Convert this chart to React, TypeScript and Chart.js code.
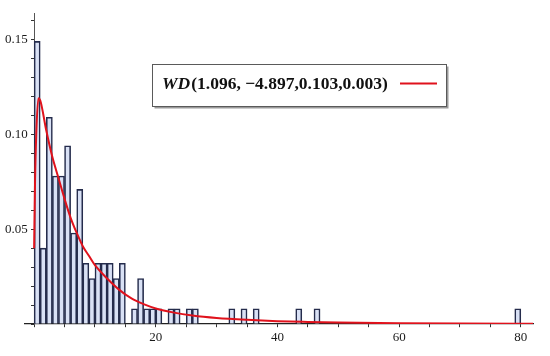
import React, { useEffect, useRef } from "react";
import { Chart, registerables } from "chart.js";

Chart.register(...registerables);

// Histogram bins (left edge of each unit-width bin) and their densities
const binStarts = [0, 1, 2, 3, 4, 5, 6, 7, 8, 9, 10, 11, 12, 13, 14, 16, 17, 18, 19, 20, 22, 23, 25, 26, 32, 34, 36, 43, 46, 79];
const binDensities = [
  0.149, 0.040, 0.109, 0.078, 0.078, 0.094, 0.048, 0.071,
  0.032, 0.024, 0.032, 0.032, 0.032, 0.024, 0.032,
  0.008, 0.024,
  0.008, 0.008, 0.008,
  0.008, 0.008,
  0.008, 0.008,
  0.008, 0.008, 0.008,
  0.008, 0.008,
  0.008,
];

// Fitted WD density curve
const curveX = [0, 0.15, 0.35, 0.7, 1, 2, 3, 4, 5, 6, 7, 8, 9, 10, 12, 14, 16, 18, 20, 23, 26, 30, 35, 40, 45, 50, 60, 70, 80, 82];
const curveY = [0.040, 0.075, 0.100, 0.119, 0.118, 0.102, 0.088, 0.077, 0.066, 0.056, 0.048, 0.041, 0.036, 0.031, 0.024, 0.018, 0.0135, 0.0105, 0.0082, 0.006, 0.0045, 0.0032, 0.0022, 0.0015, 0.0011, 0.0008, 0.0004, 0.0002, 0.0001, 0.0001];

// Axis ticks
const xTickValues = [0, 5, 10, 15, 20, 25, 30, 35, 40, 45, 50, 55, 60, 65, 70, 75, 80];
const xTickLabels = [20, 40, 60, 80];
const yTickValues = [0, 0.01, 0.02, 0.03, 0.04, 0.05, 0.06, 0.07, 0.08, 0.09, 0.1, 0.11, 0.12, 0.13, 0.14, 0.15, 0.16];
const yTickLabels = [0.05, 0.1, 0.15];

const legendLabelName = "WD";
const legendLabelArgs = "(1.096, \u22124.897,0.103,0.003)";

const RED = "#e0121c";

const legendPlugin = {
  id: "wdLegend",
  afterDraw(chart: any) {
    const ctx = chart.ctx as CanvasRenderingContext2D;
    const bx = 152.5, by = 64.5, bw = 294, bh = 42;
    ctx.save();
    ctx.fillStyle = "#9a9a9a";
    ctx.fillRect(bx + 2, by + 2, bw, bh);
    ctx.fillStyle = "#ffffff";
    ctx.fillRect(bx, by, bw, bh);
    ctx.strokeStyle = "#5a5a5a";
    ctx.lineWidth = 1;
    ctx.strokeRect(bx, by, bw, bh);
    const tx = 162, ty = 84;
    ctx.fillStyle = "#111";
    ctx.textBaseline = "middle";
    ctx.font = "italic bold 17.5px 'Liberation Serif'";
    ctx.fillText(legendLabelName, tx, ty);
    const w = ctx.measureText(legendLabelName).width;
    ctx.font = "bold 17.5px 'Liberation Serif'";
    ctx.fillText(legendLabelArgs, tx + w + 1, ty);
    ctx.strokeStyle = RED;
    ctx.lineWidth = 2;
    ctx.beginPath();
    ctx.moveTo(400, 83.5);
    ctx.lineTo(437, 83.5);
    ctx.stroke();
    ctx.restore();
  },
};

export default function App() {
  const ref = useRef<HTMLCanvasElement | null>(null);
  useEffect(() => {
    if (!ref.current) return;
    const chart = new Chart(ref.current, {
      type: "bar",
      data: {
        datasets: [
          {
            type: "line",
            data: curveX.map((x, i) => ({ x, y: curveY[i] })),
            borderColor: RED,
            borderWidth: 2,
            pointRadius: 0,
            cubicInterpolationMode: "monotone",
            fill: false,
            order: 0,
          } as any,
          {
            type: "bar",
            data: binStarts.map((s, i) => ({ x: s + 0.5, y: binDensities[i] })),
            backgroundColor: "#d9e1f5",
            borderColor: "#252c4c",
            borderWidth: 1.6,
            borderSkipped: "bottom",
            barPercentage: 1,
            categoryPercentage: 1,
            order: 1,
          } as any,
        ],
      },
      options: {
        animation: false,
        responsive: false,
        devicePixelRatio: 1,
        layout: { padding: { left: 25, right: 17, top: 13, bottom: 32 } },
        plugins: { legend: { display: false }, tooltip: { enabled: false } },
        scales: {
          x: {
            type: "linear",
            min: -1.5,
            max: 82,
            offset: false,
            position: { y: 0 } as any,
            afterFit: (s: any) => { s.height = 0; s.paddingLeft = 0; s.paddingRight = 0; },
            afterBuildTicks: (axis: any) => {
              axis.ticks = xTickValues.map((v) => ({ value: v }));
            },
            grid: { display: true, offset: false, drawOnChartArea: false, drawTicks: true, tickLength: 3, tickColor: "#333" },
            border: { display: true, color: "#222", width: 1.2 },
            ticks: {
              autoSkip: false,
              maxRotation: 0,
              padding: 3,
              color: "#1a1a1a",
              font: { family: "'Liberation Serif'", size: 13 },
              callback: (v: any) => (xTickLabels.includes(Number(v)) ? String(v) : ""),
            },
          },
          y: {
            type: "linear",
            min: 0,
            max: 0.164,
            position: { x: 0 } as any,
            afterFit: (s: any) => { s.width = 0; s.paddingTop = 0; s.paddingBottom = 0; },
            afterBuildTicks: (axis: any) => {
              axis.ticks = yTickValues.map((v) => ({ value: v }));
            },
            grid: { display: true, drawOnChartArea: false, drawTicks: true, tickLength: 3, tickColor: "#333" },
            border: { display: true, color: "#555", width: 1 },
            ticks: {
              autoSkip: false,
              padding: 3,
              color: "#1a1a1a",
              font: { family: "'Liberation Serif'", size: 13 },
              callback: (v: any) => {
                const n = Number(v);
                return yTickLabels.some((t) => Math.abs(t - n) < 1e-9) ? n.toFixed(2) + "  " : "";
              },
            },
          },
        },
      },
      plugins: [legendPlugin],
    });
    return () => chart.destroy();
  }, []);
  return (
    <div style={{ position: "fixed", left: 0, top: 0, width: 550, height: 356, background: "#fff" }}>
      <canvas ref={ref} width={550} height={356} style={{ width: 550, height: 356, display: "block" }} />
    </div>
  );
}
